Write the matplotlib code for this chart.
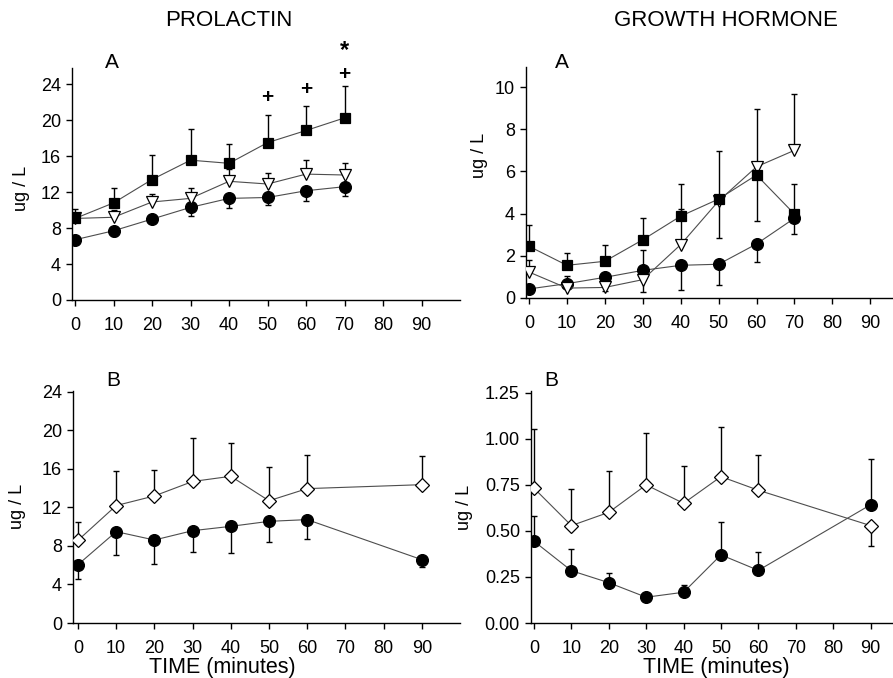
#PROLACTIN / GROWTH HORMONE
#A: 0-70 min, B: 0-90 min

import numpy as np
import matplotlib
matplotlib.use("Agg")
import matplotlib.pyplot as plt

plt.rcParams['font.family'] = ['Liberation Sans', 'DejaVu Sans']

nan = np.nan

#時間 (minutes)
time_a = [0, 10, 20, 30, 40, 50, 60, 70]
time_b = [0, 10, 20, 30, 40, 50, 60, 90]
time_ticks = [0, 10, 20, 30, 40, 50, 60, 70, 80, 90]

#PROLACTIN A (値 / エラーバー端)
prl_a_sq = [9.07, 10.8, 13.4, 15.55, 15.2, 17.5, 18.85, 20.25]
prl_a_sq_top = [10.1, 12.4, 16.1, 19.0, 17.4, 20.6, 21.6, 23.8]
prl_a_tri = [9.07, 9.2, 10.9, 11.3, 13.2, 12.9, 14.0, 13.9]
prl_a_tri_top = [nan, 10.0, 11.8, 12.5, 14.6, 14.1, 15.55, 15.2]
prl_a_dot = [6.7, 7.7, 9.0, 10.3, 11.3, 11.4, 12.15, 12.6]
prl_a_dot_bot = [nan, 7.1, 8.7, 9.35, 10.2, 10.55, 11.0, 11.55]

#有意差マーク
sig_plus_x = [50, 60, 70]
sig_plus_y = [22.5, 23.4, 25.1]
sig_star_x = [70]
sig_star_y = [27.7]

#GROWTH HORMONE A
gh_a_sq = [2.45, 1.55, 1.74, 2.76, 3.88, 4.69, 5.83, 3.98]
gh_a_sq_top = [3.45, 2.13, 2.5, 3.79, 5.4, 6.98, nan, 5.39]
gh_a_sq_bot = [nan, nan, nan, nan, nan, nan, 3.63, nan]
gh_a_tri = [1.23, 0.47, 0.5, 0.87, 2.53, 4.6, 6.22, 7.0]
gh_a_tri_top = [1.78, nan, nan, nan, 4.23, nan, 8.94, 9.65]
gh_a_tri_bot = [nan, nan, 0.32, 0.28, nan, 2.83, nan, nan]
gh_a_dot = [0.43, 0.68, 0.98, 1.31, 1.55, 1.6, 2.56, 3.78]
gh_a_dot_top = [nan, 1.03, nan, 2.29, nan, nan, nan, nan]
gh_a_dot_bot = [nan, nan, nan, nan, 0.4, 0.62, 1.69, 3.03]

#PROLACTIN B
prl_b_dia = [8.59, 12.2, 13.2, 14.7, 15.24, 12.7, 13.96, 14.37]
prl_b_dia_top = [10.46, 15.83, 15.93, 19.19, 18.7, 16.2, 17.42, 17.32]
prl_b_dot = [6.06, 9.49, 8.62, 9.59, 10.04, 10.56, 10.74, 6.58]
prl_b_dot_bot = [4.6, 7.06, 6.12, 7.37, 7.23, 8.45, 8.77, 5.81]

#GROWTH HORMONE B
gh_b_dia = [0.732, 0.529, 0.601, 0.75, 0.65, 0.795, 0.721, 0.529]
gh_b_dia_top = [1.052, 0.728, 0.828, 1.03, 0.85, 1.065, 0.915, nan]
gh_b_dia_bot = [nan, nan, nan, nan, nan, nan, nan, 0.419]
gh_b_dot = [0.444, 0.284, 0.219, 0.14, 0.167, 0.37, 0.286, 0.642]
gh_b_dot_top = [0.58, 0.402, 0.27, nan, 0.207, 0.547, 0.385, 0.892]


def series(ax, x, y, ends, marker, face, ms, z):
    x = np.array(x, float)
    y = np.array(y, float)
    for end in ends:
        end = np.array(end, float)
        ok = ~np.isnan(end)
        lo = np.clip(y[ok] - end[ok], 0, None)
        hi = np.clip(end[ok] - y[ok], 0, None)
        ax.errorbar(x[ok], y[ok], yerr=[lo, hi], fmt='none', ecolor='black',
                    elinewidth=1.0, capsize=2.5, capthick=1.0, zorder=1)
    ax.plot(x, y, color='0.3', lw=0.8, marker=marker, mfc=face, mec='black',
            ms=ms, mew=0.9, zorder=z)


def style(ax, xlim, ylim, yticks, fmt):
    for s in ['top', 'right']:
        ax.spines[s].set_visible(False)
    for s in ['left', 'bottom']:
        ax.spines[s].set_linewidth(1.0)
    ax.set_xlim(xlim)
    ax.set_ylim(ylim)
    ax.set_xticks(time_ticks)
    ax.set_yticks(yticks)
    ax.set_yticklabels([fmt.format(v) for v in yticks])
    ax.tick_params(direction='out', length=4, width=1, labelsize=13, pad=4)
    ax.tick_params(axis='x', pad=8)


fig = plt.figure(figsize=(8.93, 6.78), dpi=100)
W, H = 893.0, 678.0

def axes_px(l, t, r, b):
    return fig.add_axes([l / W, 1 - b / H, (r - l) / W, (b - t) / H])

ax1 = axes_px(72, 68, 460, 300)
ax2 = axes_px(526, 67, 893, 298)
ax3 = axes_px(73, 391, 460, 623)
ax4 = axes_px(531, 391, 893, 623)

#A 左
series(ax1, time_a, prl_a_dot, [prl_a_dot_bot], 'o', 'black', 8.5, 3)
series(ax1, time_a, prl_a_tri, [prl_a_tri_top], 'v', 'white', 9, 3.1)
series(ax1, time_a, prl_a_sq, [prl_a_sq_top], 's', 'black', 7.5, 3.2)
style(ax1, (-0.8, 100), (0, 25.8), [0, 4, 8, 12, 16, 20, 24], '{:g}')
for x, y in zip(sig_plus_x, sig_plus_y):
    ax1.text(x, y, '+', ha='center', va='center', fontsize=15, fontweight='bold')
for x, y in zip(sig_star_x, sig_star_y):
    ax1.text(x, y, '*', ha='center', va='center', fontsize=17, fontweight='bold')

#A 右
series(ax2, time_a, gh_a_dot, [gh_a_dot_top, gh_a_dot_bot], 'o', 'black', 8.5, 3)
series(ax2, time_a, gh_a_tri, [gh_a_tri_top, gh_a_tri_bot], 'v', 'white', 9, 3.1)
series(ax2, time_a, gh_a_sq, [gh_a_sq_top, gh_a_sq_bot], 's', 'black', 7.5, 3.2)
style(ax2, (-0.8, 96), (0, 10.95), [0, 2, 4, 6, 8, 10], '{:g}')

#B 左
series(ax3, time_b, prl_b_dot, [prl_b_dot_bot], 'o', 'black', 8.5, 3)
series(ax3, time_b, prl_b_dia, [prl_b_dia_top], 'D', 'white', 7, 3.1)
style(ax3, (-1.3, 100), (0, 24.1), [0, 4, 8, 12, 16, 20, 24], '{:g}')

#B 右
series(ax4, time_b, gh_b_dot, [gh_b_dot_top], 'o', 'black', 8.5, 3)
series(ax4, time_b, gh_b_dia, [gh_b_dia_top, gh_b_dia_bot], 'D', 'white', 7, 3.1)
style(ax4, (-0.8, 96), (0, 1.26), [0, 0.25, 0.5, 0.75, 1.0, 1.25], '{:.2f}')

#タイトル・ラベル
fig.text(229 / W, 1 - 20 / H, 'PROLACTIN', ha='center', va='center', fontsize=16)
fig.text(726 / W, 1 - 20 / H, 'GROWTH HORMONE', ha='center', va='center', fontsize=16)
for x, y, s in [(112, 62, 'A'), (562, 62, 'A'), (113, 381, 'B'), (551, 381, 'B')]:
    fig.text(x / W, 1 - y / H, s, ha='center', va='center', fontsize=15)
for x, y in [(21, 188), (480, 155), (17, 506), (465, 507)]:
    fig.text(x / W, 1 - y / H, 'ug / L', ha='center', va='center', fontsize=13, rotation=90)
for x in [222, 716]:
    fig.text(x / W, 1 - 668 / H, 'TIME (minutes)', ha='center', va='center', fontsize=15.5)

plt.savefig('out.png', dpi=100)
